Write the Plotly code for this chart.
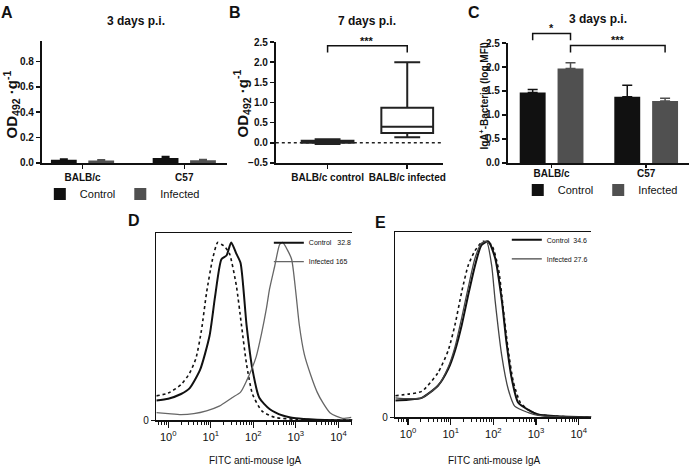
import plotly.graph_objects as go

# ---------------- data ----------------
# Panel A: OD492.g-1, 3 days p.i.
a_groups = ["BALB/c", "C57"]
a_control = [0.025, 0.038]
a_control_err = [0.006, 0.013]
a_infected = [0.019, 0.021]
a_infected_err = [0.005, 0.006]

# Panel B: box plot, 7 days p.i.
b_groups = ["BALB/c control", "BALB/c infected"]
b_lower = [-0.03, 0.14]
b_q1 = [0.00, 0.24]
b_median = [0.03, 0.40]
b_q3 = [0.05, 0.87]
b_upper = [0.09, 2.00]
b_sig = [("BALB/c control", "BALB/c infected", 2.41, 2.24, "***")]

# Panel C: IgA+ bacteria (log MFI), 3 days p.i.
c_groups = ["BALB/c", "C57"]
c_control = [1.47, 1.38]
c_control_err = [0.06, 0.24]
c_infected = [1.97, 1.29]
c_infected_err = [0.12, 0.06]
# (group, series) -> (group, series), bracket level, leg end, label
c_sig = [((0, "Control"), (0, "Infected"), 2.70, 2.56, "*"),
         ((0, "Infected"), (1, "Infected"), 2.45, 2.30, "***")]

# Panel D: flow cytometry histograms (FITC anti-mouse IgA), % of max
d_iso_x = [0.525, 1.0, 2.0, 3.16, 4.47, 6.03, 7.94, 11.0, 14.5, 17.8, 20.9, 27.5,
           39.8, 52.5, 69.2, 95.5, 158, 316, 1000, 3162, 21380]
d_iso_y = [13, 14.5, 19, 25, 33, 48, 68, 86, 95, 94, 93, 89, 72, 51, 30, 14, 5,
           1.5, 0.5, 0.2, 0]
d_ctrl_x = [0.525, 1.0, 2.0, 3.16, 5.62, 9.33, 12.6, 17.8, 23.4, 30.2, 39.8, 50.1,
            69.2, 95.5, 138, 240, 490, 1000, 3162, 21380]
d_ctrl_y = [10.5, 11.5, 14, 17, 27, 45, 66, 86, 88, 95, 89, 84, 51, 27, 12, 6, 2.5,
            1, 0.3, 0]
d_inf_x = [0.525, 1.0, 2.0, 3.98, 7.94, 15.8, 31.6, 50.1, 69.2, 117, 155, 204, 240,
           316, 417, 490, 631, 794, 1000, 1202, 1585, 2239, 3162, 4266, 6310, 9120,
           12589, 19953]
d_inf_y = [4, 3.5, 3, 3.5, 5, 7.5, 12, 15, 21, 34, 46, 60, 70, 82, 94, 95, 91, 86,
           68, 51, 35, 24, 15, 9.5, 4, 2, 1, 1.5]
d_names = ["Control\u00a0\u00a0\u00a032.8", "Infected 165"]

# Panel E
e_iso_x = [0.5, 1.0, 2.09, 5.01, 8.71, 12.6, 18.2, 25.7, 37.2, 57.5, 91.2, 132, 170,
           224, 295, 427, 661, 1122, 3162, 19953]
e_iso_y = [11.6, 12.5, 14, 24, 36, 50, 68, 82, 90, 95, 93, 80, 59, 36, 19, 8, 4, 1.5,
           0.5, 0]
e_ctrl_x = [0.5, 1.0, 2.09, 5.01, 8.71, 12.6, 18.2, 25.7, 37.2, 52.5, 75.9, 110, 158,
            204, 269, 380, 661, 1122, 3162, 19953]
e_ctrl_y = [9, 9.5, 10.5, 17, 26, 36, 50, 66, 82, 93, 95, 86, 63, 40, 21, 8, 4, 1.5,
            0.5, 0]
e_inf_x = [0.5, 1.0, 2.09, 5.01, 8.71, 12.6, 18.2, 25.7, 37.2, 52.5, 69.2, 91.2, 110,
           158, 224, 316, 661, 1122, 3162, 19953]
e_inf_y = [10.5, 10, 10.5, 17, 27, 38, 54, 70, 86, 94, 95, 82, 63, 33, 15, 6, 2.5, 1,
           0.3, 0]
e_names = ["Control\u00a0\u00a034.6", "Infected 27.6"]

log_major = [1, 10, 100, 1000, 10000]
log_labels = ["10<sup>0</sup>", "10<sup>1</sup>", "10<sup>2</sup>", "10<sup>3</sup>", "10<sup>4</sup>"]

# ---------------- style ----------------
W, H = 696, 472
FONT = "Liberation Sans, Arial, sans-serif"
CTRL = "#111111"
INF = "#505050"
BAR_W = 0.274
BAR_SHIFT = 0.2


def px(p):
    return p / W


def py(p):
    return 1 - p / H


fig = go.Figure()

# ---- Panel A bars
for name, vals, errs, col in [("Control", a_control, a_control_err, CTRL),
                              ("Infected", a_infected, a_infected_err, INF)]:
    fig.add_trace(go.Bar(
        x=a_groups, y=vals, name=name, marker=dict(color=col, line=dict(width=0)),
        error_y=dict(type="data", array=errs, arrayminus=[0] * len(errs), symmetric=False,
                     color=col, thickness=1.5, width=4),
        xaxis="x", yaxis="y", legend="legend"))

# ---- Panel B boxes
fig.add_trace(go.Box(
    x=b_groups, q1=b_q1, median=b_median, q3=b_q3, lowerfence=b_lower, upperfence=b_upper,
    xaxis="x2", yaxis="y2", fillcolor="white", line=dict(color="#222222", width=2),
    width=0.65, whiskerwidth=0.5, showlegend=False, boxpoints=False))
for g0, g1, lvl, leg, lab in b_sig:
    fig.add_trace(go.Scatter(x=[g0, g0, g1, g1], y=[leg, lvl, lvl, leg], mode="lines",
                             line=dict(color="#111111", width=1.5), xaxis="x2", yaxis="y7",
                             showlegend=False, hoverinfo="skip"))

# ---- Panel C bars (numeric positions with category tick labels)
c_pos = list(range(len(c_groups)))
shift = {"Control": -BAR_SHIFT, "Infected": BAR_SHIFT}
for name, vals, errs, col in [("Control", c_control, c_control_err, CTRL),
                              ("Infected", c_infected, c_infected_err, INF)]:
    fig.add_trace(go.Bar(
        x=c_pos, y=vals, name=name, marker=dict(color=col, line=dict(width=0)),
        width=BAR_W, offset=shift[name] - BAR_W / 2,
        error_y=dict(type="data", array=errs, arrayminus=[0] * len(errs), symmetric=False,
                     color=col, thickness=1.5, width=5),
        xaxis="x3", yaxis="y3", legend="legend2"))
c_star_annots = []
for (g0, s0), (g1, s1), lvl, leg, lab in c_sig:
    x0 = c_pos[g0] + shift[s0]
    x1 = c_pos[g1] + shift[s1]
    fig.add_trace(go.Scatter(x=[x0, x0, x1, x1], y=[leg, lvl, lvl, leg], mode="lines",
                             line=dict(color="#111111", width=1.5), xaxis="x3", yaxis="y6",
                             showlegend=False, hoverinfo="skip"))
    c_star_annots.append(dict(x=(x0 + x1) / 2, y=lvl, xref="x3", yref="y6", text=lab,
                              showarrow=False, xanchor="center", yanchor="bottom", yshift=-3,
                              font=dict(family=FONT, size=11, color="#111", weight="bold")))

# ---- Panel D histograms
fig.add_trace(go.Scatter(x=d_iso_x, y=d_iso_y, mode="lines", showlegend=False,
                         line=dict(color="#111111", width=1.6, dash="dot", shape="spline", smoothing=0.6),
                         xaxis="x4", yaxis="y4"))
fig.add_trace(go.Scatter(x=d_ctrl_x, y=d_ctrl_y, mode="lines", name=d_names[0],
                         line=dict(color="#111111", width=2, shape="spline", smoothing=0.6),
                         xaxis="x4", yaxis="y4", legend="legend3"))
fig.add_trace(go.Scatter(x=d_inf_x, y=d_inf_y, mode="lines", name=d_names[1],
                         line=dict(color="#666666", width=1.3, shape="spline", smoothing=0.6),
                         xaxis="x4", yaxis="y4", legend="legend3"))

# ---- Panel E histograms
fig.add_trace(go.Scatter(x=e_iso_x, y=e_iso_y, mode="lines", showlegend=False,
                         line=dict(color="#111111", width=1.6, dash="dot", shape="spline", smoothing=0.6),
                         xaxis="x5", yaxis="y5"))
fig.add_trace(go.Scatter(x=e_ctrl_x, y=e_ctrl_y, mode="lines", name=e_names[0],
                         line=dict(color="#111111", width=2, shape="spline", smoothing=0.6),
                         xaxis="x5", yaxis="y5", legend="legend4"))
fig.add_trace(go.Scatter(x=e_inf_x, y=e_inf_y, mode="lines", name=e_names[1],
                         line=dict(color="#444444", width=1.3, shape="spline", smoothing=0.6),
                         xaxis="x5", yaxis="y5", legend="legend4"))

bold10 = dict(family=FONT, size=10, color="#111", weight="bold")
common_bar_axis = dict(showline=True, linecolor="#111", linewidth=2, ticks="outside",
                       ticklen=4, tickwidth=1.5, tickcolor="#111", showgrid=False,
                       zeroline=False, tickfont=bold10, fixedrange=True)

minor_vals = [m * 10 ** k for k in range(-1, 5) for m in range(2, 10)]
flow_x = dict(type="log", showline=True, linecolor="#111", linewidth=1.5, mirror=True,
              ticks="outside", ticklen=6, tickwidth=1.2, tickcolor="#111",
              tickvals=log_major, ticktext=log_labels, showgrid=False, zeroline=False,
              tickfont=dict(family=FONT, size=11, color="#111"),
              minor=dict(ticks="outside", ticklen=3, tickwidth=1, tickcolor="#111",
                         tickvals=minor_vals, showgrid=False))
flow_y = dict(range=[0, 100], showline=True, linecolor="#111", linewidth=1.5,
              ticks="outside", ticklen=4, tickwidth=1.2, tickcolor="#111",
              tickvals=[0], ticktext=["0"], showgrid=False, zeroline=False,
              tickfont=dict(family=FONT, size=10, color="#111"))


def paper_text(x, y, text, size, bold=True, angle=0):
    return dict(x=px(x), y=py(y), xref="paper", yref="paper", text=text, showarrow=False,
                xanchor="center", yanchor="middle", textangle=angle,
                font=dict(family=FONT, size=size, color="#111",
                          weight="bold" if bold else "normal"))


annots = [
    paper_text(7, 7, "A", 16), paper_text(236, 7, "B", 16), paper_text(476, 7, "C", 16),
    paper_text(135, 220, "D", 16), paper_text(382, 222, "E", 16),
    paper_text(137, 15, "3 days p.i.", 12), paper_text(369, 15, "7 days p.i.", 12),
    paper_text(601, 13, "3 days p.i.", 12),
    paper_text(11, 101, "OD<sub>492</sub> ·g<sup>-1</sup>", 15, angle=-90),
    paper_text(243, 100, "OD<sub>492</sub> ·g<sup>-1</sup>", 15, angle=-90),
    paper_text(486, 92, "IgA<sup>+</sup>-Bacteria (log MFI)", 10, angle=-90),
    paper_text(257, 466, "FITC anti-mouse IgA", 10, bold=False),
    paper_text(497, 466, "FITC anti-mouse IgA", 10, bold=False),
]
b_annots = [dict(x=0.5, y=lvl, xref="x2", yref="y7", text=lab, showarrow=False,
                 xanchor="center", yanchor="bottom", yshift=-3,
                 font=dict(family=FONT, size=11, color="#111", weight="bold"))
            for g0, g1, lvl, leg, lab in b_sig]

legend_common = dict(orientation="h", xanchor="left", yanchor="top", bgcolor="rgba(0,0,0,0)",
                     font=dict(family=FONT, size=11, color="#111"), itemwidth=30)
flow_legend = dict(orientation="v", xanchor="left", yanchor="top", bgcolor="rgba(0,0,0,0)",
                   font=dict(family=FONT, size=7, color="#111"), itemwidth=30, tracegroupgap=0)

fig.update_layout(
    width=W, height=H, margin=dict(l=0, r=0, t=0, b=0),
    paper_bgcolor="white", plot_bgcolor="rgba(0,0,0,0)", hovermode=False,
    font=dict(family=FONT, color="#111"),
    barmode="group", bargap=0.265, bargroupgap=0.31,
    xaxis=dict(common_bar_axis, domain=[px(42), px(228)], anchor="y", type="category",
               range=[-0.40, 1.42]),
    yaxis=dict(common_bar_axis, domain=[py(161), py(36)], anchor="x", range=[0, 0.96],
               tick0=0, dtick=0.2, tickformat=".1f"),
    xaxis2=dict(common_bar_axis, domain=[px(277), px(445)], anchor="y2", type="category",
                range=[-0.65, 1.45]),
    yaxis2=dict(common_bar_axis, domain=[py(161), py(37)], anchor="x2", range=[-0.5, 2.5],
                tick0=0, dtick=0.5, tickformat=".1f"),
    yaxis7=dict(domain=[py(161), py(13)], anchor="x2", range=[-0.5, 3.08], visible=False,
                fixedrange=True),
    xaxis3=dict(common_bar_axis, domain=[px(510), px(692)], anchor="y3",
                range=[-0.463, 1.453], tickvals=c_pos, ticktext=c_groups,
                ticklen=3, ticklabelstandoff=-3),
    yaxis3=dict(common_bar_axis, domain=[py(161), py(38)], anchor="x3", range=[0, 2.5],
                tick0=0, dtick=0.5, tickformat=".1f"),
    yaxis6=dict(domain=[py(161), py(13)], anchor="x3", range=[0, 3.008], visible=False,
                fixedrange=True),
    xaxis4=dict(flow_x, domain=[px(157), px(354)], anchor="y4", range=[-0.28, 4.33]),
    yaxis4=dict(flow_y, domain=[py(425), py(233)], anchor="x4"),
    xaxis5=dict(flow_x, domain=[px(397), px(594)], anchor="y5", range=[-0.3, 4.3]),
    yaxis5=dict(flow_y, domain=[py(422), py(232)], anchor="x5"),
    legend=dict(legend_common, x=px(40), y=py(178)),
    legend2=dict(legend_common, x=px(520), y=py(174)),
    legend3=dict(flow_legend, x=px(270), y=py(228)),
    legend4=dict(flow_legend, x=px(509), y=py(225)),
    annotations=annots + b_annots + c_star_annots,
    shapes=[dict(type="line", xref="x2 domain", yref="y2", x0=0, x1=1, y0=0, y1=0,
                 line=dict(color="#222", width=1.3, dash="dot"), layer="below")],
)

fig.write_html("out.html", config={"displayModeBar": False, "staticPlot": True},
               post_script="document.body.style.margin='0';document.body.style.overflow='hidden';")
